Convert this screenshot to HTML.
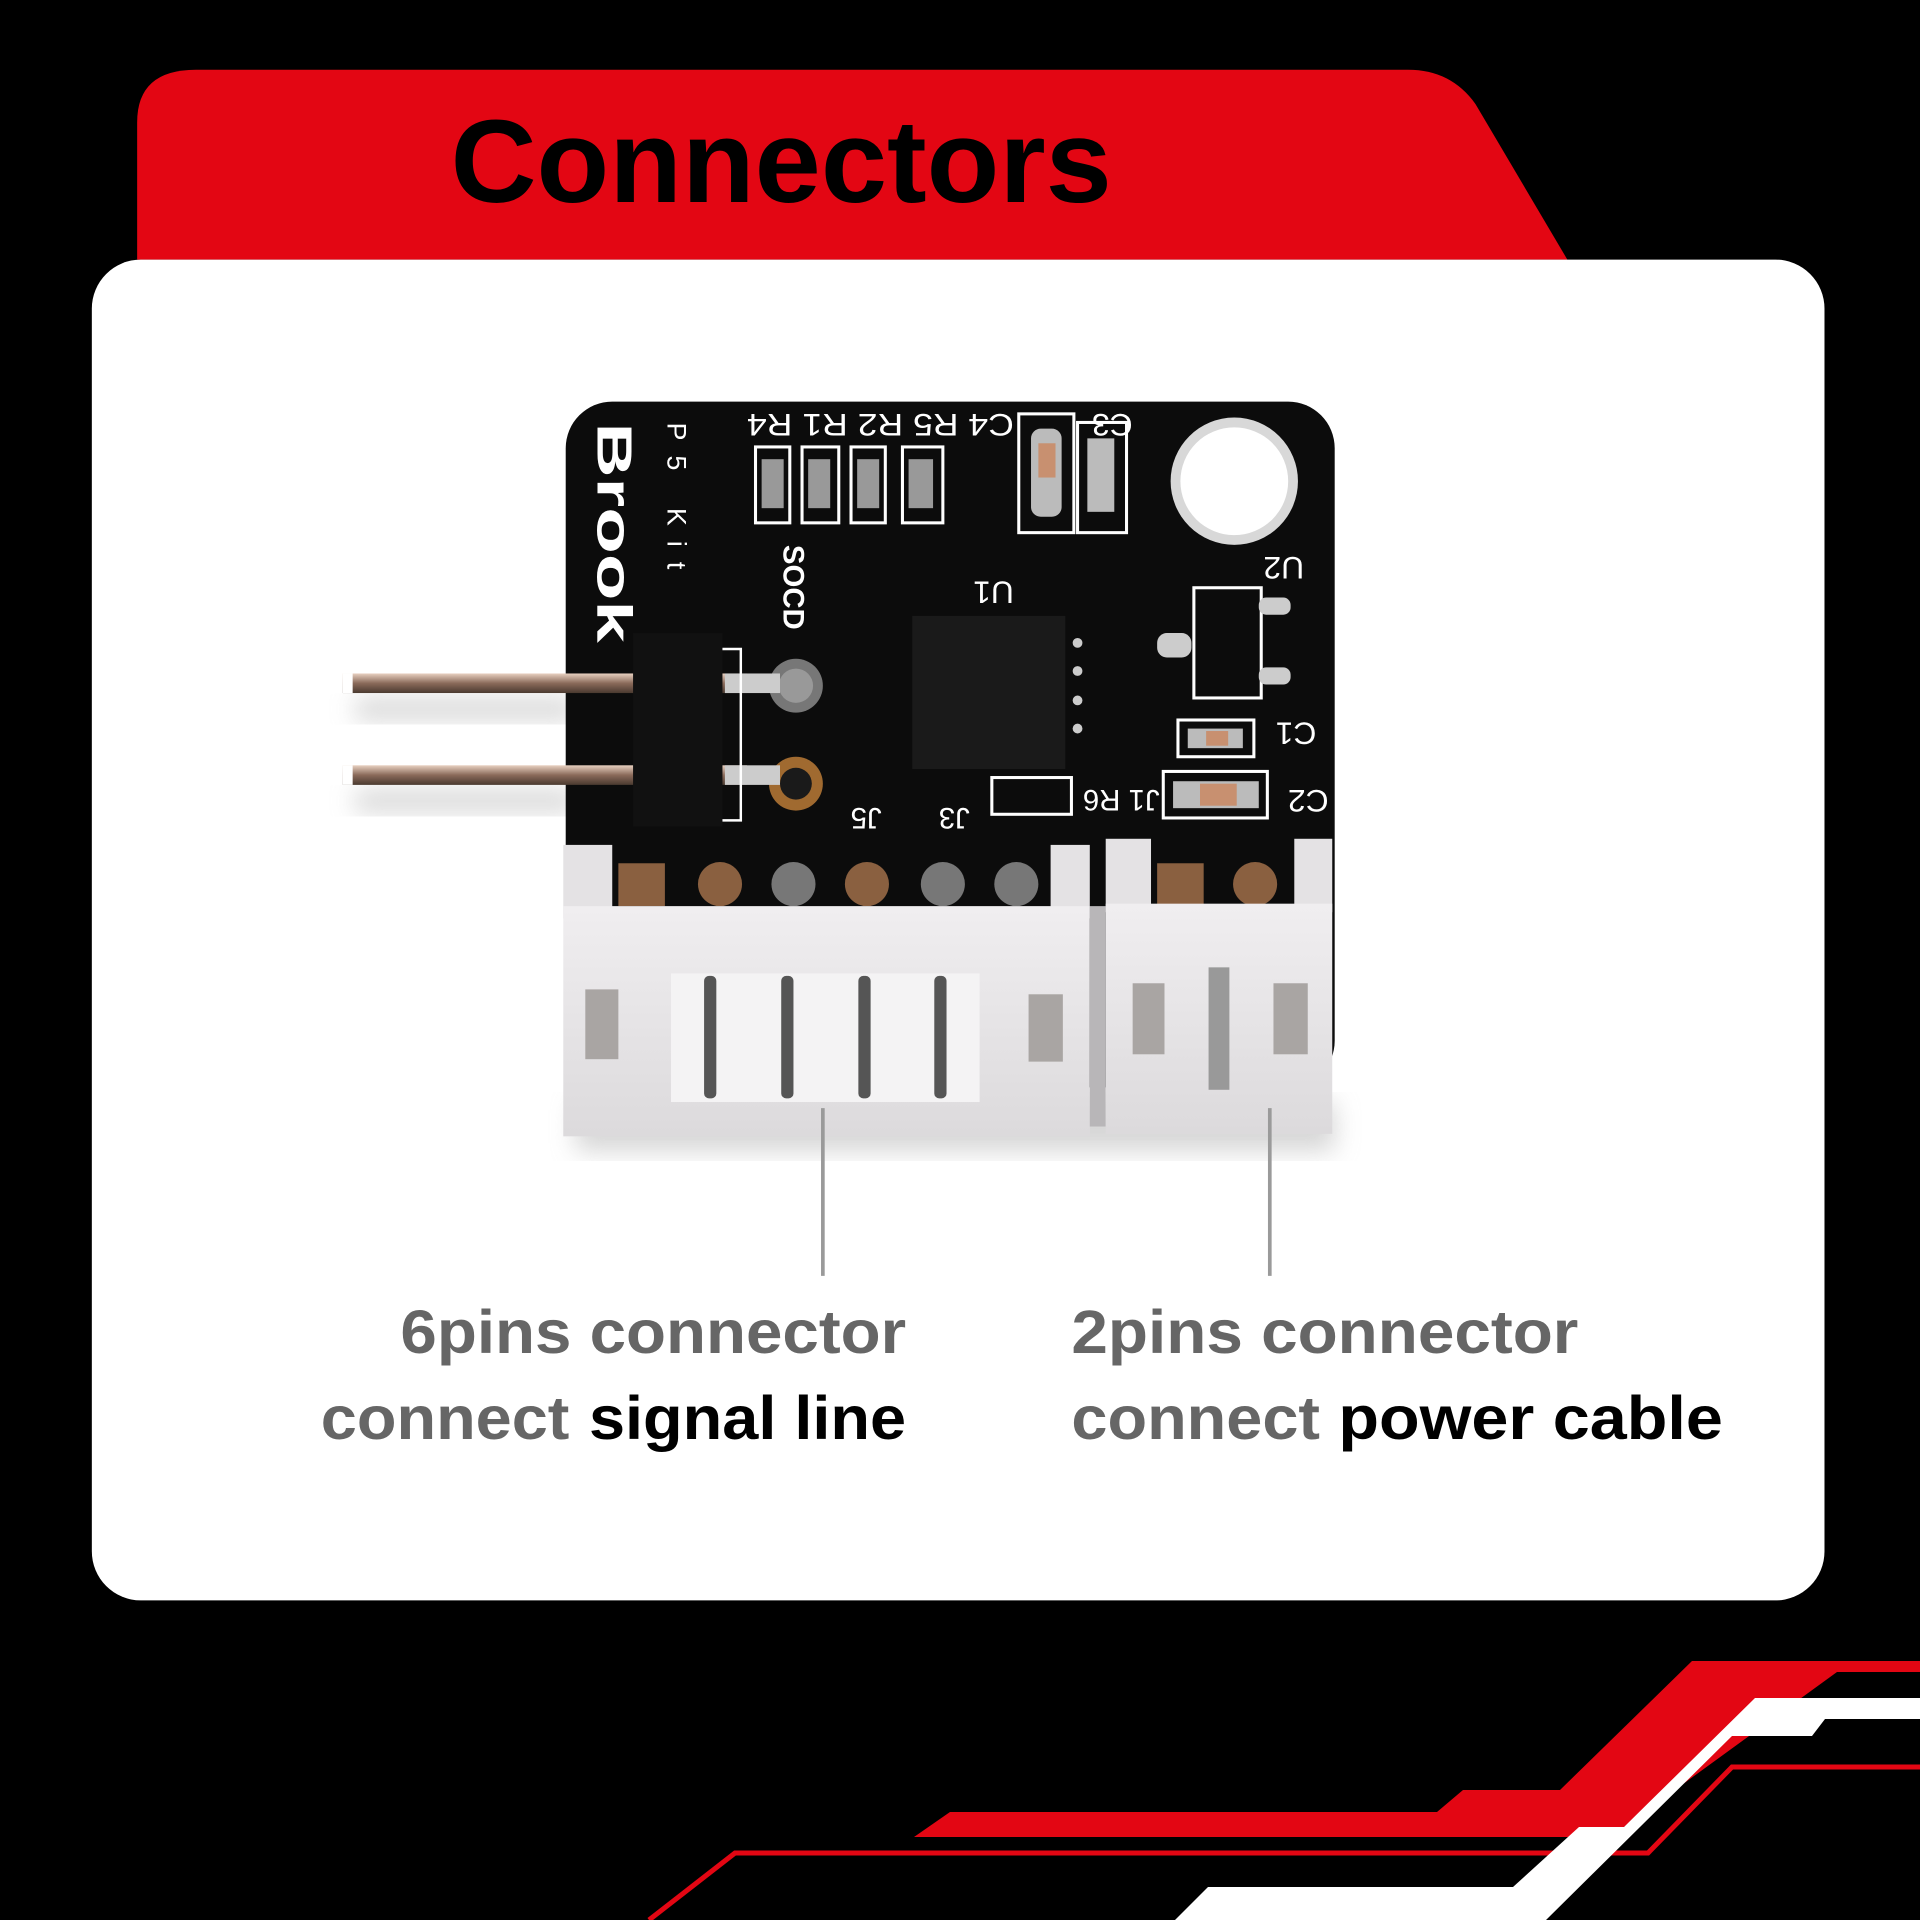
<!DOCTYPE html>
<html><head><meta charset="utf-8"><style>
html,body{margin:0;padding:0;background:#000;}
svg{display:block;}
</style></head><body>
<svg width="1920" height="1920" viewBox="0 0 1568 1568" xmlns="http://www.w3.org/2000/svg">
<defs>
<filter id="sh" x="-20%" y="-20%" width="140%" height="140%"><feGaussianBlur stdDeviation="10"/></filter>
<linearGradient id="pin" x1="0" y1="0" x2="0" y2="1"><stop offset="0" stop-color="#e8d0c0"/><stop offset="0.5" stop-color="#8a6a5a"/><stop offset="1" stop-color="#4a3a30"/></linearGradient>
<linearGradient id="hous" x1="0" y1="0" x2="0" y2="1"><stop offset="0" stop-color="#f0eef0"/><stop offset="1" stop-color="#dcdadc"/></linearGradient>
</defs>
<rect width="1568" height="1568" fill="#000"/>
<path d="M112,212 L112,100 Q112,57 160,57 L1150,57 Q1185,57 1205,85 L1280,212 Z" fill="#e30613"/>
<text x="368" y="165" font-family="Liberation Sans, sans-serif" font-weight="bold" font-size="96" textLength="540" lengthAdjust="spacingAndGlyphs" fill="#000">Connectors</text>
<rect x="75" y="212" width="1415" height="1095" rx="40" fill="#fff"/>
<rect x="470" y="900" width="620" height="40" fill="#bbb" filter="url(#sh)" opacity="0.6"/>
<rect x="290" y="570" width="180" height="18" fill="#bbb" filter="url(#sh)" opacity="0.6"/>
<rect x="290" y="645" width="180" height="18" fill="#bbb" filter="url(#sh)" opacity="0.6"/>
<rect x="462" y="328" width="628" height="560" rx="38" fill="#0c0c0c"/>
<circle cx="1008" cy="393" r="52" fill="#d8d8d8"/>
<circle cx="1008" cy="393" r="44" fill="#fff"/>
<g font-family="Liberation Sans, sans-serif" fill="#fff">
<text transform="translate(488,345) rotate(90)" font-size="40" font-weight="bold" textLength="180" lengthAdjust="spacingAndGlyphs">Brook</text>
<text transform="translate(545,345) rotate(90)" font-size="22" textLength="120" lengthAdjust="spacing">P5 Kit</text>
<text transform="translate(640,445) rotate(90)" font-size="24" font-weight="bold">SOCD</text>
<text transform="translate(828,338) rotate(180)" font-size="26" textLength="218" lengthAdjust="spacingAndGlyphs">C4 R5 R2 R1 R4</text>
<text transform="translate(925,338) rotate(180)" font-size="26">C3</text>
<text transform="translate(1065,455) rotate(180)" font-size="26">U2</text>
<text transform="translate(828,475) rotate(180)" font-size="26">U1</text>
<text transform="translate(1075,590) rotate(180)" font-size="26">C1</text>
<text transform="translate(1085,645) rotate(180)" font-size="26">C2</text>
<text transform="translate(947,645) rotate(180)" font-size="24">J1 R6</text>
<text transform="translate(720,660) rotate(180)" font-size="24">J5</text>
<text transform="translate(792,660) rotate(180)" font-size="24">J3</text>
</g>
<g fill="none" stroke="#fff" stroke-width="2.5">
<rect x="617" y="365" width="28" height="62"/><rect x="655" y="365" width="30" height="62"/><rect x="695" y="365" width="28" height="62"/><rect x="737" y="365" width="33" height="62"/>
<rect x="832" y="338" width="45" height="97"/><rect x="880" y="345" width="40" height="90"/>
<rect x="975" y="480" width="55" height="90"/>
<rect x="962" y="588" width="62" height="30"/><rect x="950" y="630" width="85" height="38"/>
<rect x="810" y="635" width="65" height="30"/>
</g>
<g fill="#999"><rect x="622" y="375" width="18" height="40"/><rect x="660" y="375" width="18" height="40"/><rect x="700" y="375" width="18" height="40"/><rect x="742" y="375" width="20" height="40"/>
<rect x="842" y="350" width="25" height="72" rx="8" fill="#bbb"/><rect x="888" y="358" width="22" height="60" fill="#bbb"/>
<rect x="1028" y="488" width="26" height="14" rx="6" fill="#ccc"/><rect x="1028" y="545" width="26" height="14" rx="6" fill="#ccc"/><rect x="945" y="517" width="28" height="20" rx="8" fill="#ccc"/>
<rect x="970" y="595" width="45" height="16" fill="#bbb"/><rect x="958" y="638" width="70" height="22" fill="#bbb"/>
<rect x="980" y="640" width="30" height="18" fill="#c89070"/><rect x="985" y="597" width="18" height="12" fill="#c89070"/>
<rect x="848" y="362" width="14" height="28" fill="#c89070"/></g>
<rect x="745" y="503" width="125" height="125" fill="#1a1a1a"/>
<g fill="#ccc"><circle cx="880" cy="525" r="4"/><circle cx="880" cy="548" r="4"/><circle cx="880" cy="572" r="4"/><circle cx="880" cy="595" r="4"/></g>
<circle cx="650" cy="560" r="22" fill="#777"/><circle cx="650" cy="560" r="14" fill="#999"/>
<circle cx="650" cy="640" r="22" fill="#a06a30"/><circle cx="650" cy="640" r="13" fill="#1a1a1a"/>
<rect x="280" y="550" width="330" height="16" fill="url(#pin)"/>
<rect x="280" y="625" width="330" height="16" fill="url(#pin)"/>
<rect x="280" y="550" width="8" height="16" fill="#fff"/><rect x="280" y="625" width="8" height="16" fill="#fff"/>
<rect x="517" y="517" width="73" height="158" fill="#111"/>
<rect x="592" y="550" width="45" height="16" fill="#ccc"/><rect x="592" y="625" width="45" height="16" fill="#ccc"/>
<path d="M590,530 L605,530 L605,670 L590,670" fill="none" stroke="#fff" stroke-width="2"/>
<g fill="#8a6040"><rect x="505" y="705" width="38" height="35"/><circle cx="588" cy="722" r="18"/><circle cx="648" cy="722" r="18" fill="#777"/><circle cx="708" cy="722" r="18"/><circle cx="770" cy="722" r="18" fill="#777"/><circle cx="830" cy="722" r="18" fill="#777"/>
<rect x="945" y="705" width="38" height="35"/><circle cx="1025" cy="722" r="18"/></g>
<rect x="460" y="690" width="40" height="60" fill="#e4e2e4"/>
<rect x="858" y="690" width="32" height="60" fill="#e4e2e4"/>
<rect x="460" y="740" width="430" height="188" fill="url(#hous)"/>
<rect x="478" y="808" width="27" height="57" fill="#a9a5a3"/>
<rect x="548" y="795" width="252" height="105" fill="#f4f3f4"/>
<g fill="#555"><rect x="575" y="797" width="10" height="100" rx="4"/><rect x="638" y="797" width="10" height="100" rx="4"/><rect x="701" y="797" width="10" height="100" rx="4"/><rect x="763" y="797" width="10" height="100" rx="4"/></g>
<rect x="840" y="812" width="28" height="55" fill="#a9a5a3"/>
<rect x="890" y="740" width="13" height="180" fill="#b8b6b8"/>
<rect x="903" y="685" width="37" height="60" fill="#e4e2e4"/>
<rect x="1057" y="685" width="31" height="60" fill="#e4e2e4"/>
<rect x="903" y="738" width="185" height="188" fill="url(#hous)"/>
<rect x="925" y="803" width="26" height="58" fill="#a9a5a3"/>
<rect x="987" y="790" width="17" height="100" fill="#999"/>
<rect x="1040" y="803" width="28" height="58" fill="#a9a5a3"/>
<line x1="672" y1="905" x2="672" y2="1042" stroke="#9a9a9a" stroke-width="3"/>
<line x1="1037" y1="905" x2="1037" y2="1042" stroke="#9a9a9a" stroke-width="3"/>
<g font-family="Liberation Sans, sans-serif" font-weight="bold" font-size="50">
<text x="327" y="1105" textLength="413" lengthAdjust="spacingAndGlyphs" fill="#666">6pins connector</text>
<text x="262" y="1175" textLength="203" lengthAdjust="spacingAndGlyphs" fill="#666">connect</text>
<text x="481" y="1175" textLength="259" lengthAdjust="spacingAndGlyphs" fill="#000">signal line</text>
<text x="875" y="1105" textLength="414" lengthAdjust="spacingAndGlyphs" fill="#666">2pins connector</text>
<text x="875" y="1175" textLength="203" lengthAdjust="spacingAndGlyphs" fill="#666">connect</text>
<text x="1093" y="1175" textLength="314" lengthAdjust="spacingAndGlyphs" fill="#000">power cable</text>
</g>
<g transform="scale(0.816667)">
<polygon points="1692,1661 1920,1661 1920,1672 1837,1672 1624,1827 1570,1837 914,1837 950,1812 1437,1812 1463,1790 1560,1790" fill="#e30613"/>
<polyline points="649,1920 735,1853 1648,1853 1732,1767 1920,1767" fill="none" stroke="#e30613" stroke-width="5"/>
<polygon points="1755,1698 1920,1698 1920,1719 1825,1719 1812,1736 1732,1736 1546,1920 1175,1920 1208,1887 1513,1887 1579,1827 1624,1827" fill="#fff"/>
</g>
</svg>
</body></html>
